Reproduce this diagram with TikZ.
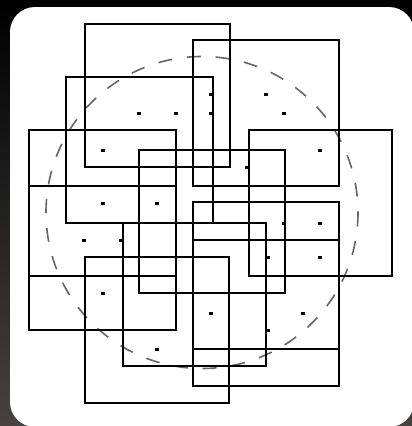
\documentclass[tikz,border=0pt]{standalone}
\usepackage{tikz}
\definecolor{framedark}{HTML}{474141}
\definecolor{ringgray}{HTML}{666666}

\begin{document}
\begin{tikzpicture}[x=1pt,y=-1pt,
    sq/.style={draw=black,line width=2.4pt},
    pin/.style={fill=black},
    ring/.style={draw=ringgray,line width=1.6pt,dash pattern=on 14pt off 14.8pt}]
  \useasboundingbox (0,0) rectangle (412,426);
  \clip (0,0) rectangle (412,426);
  % backdrop and card
  \shade[top color=black,bottom color=framedark] (0,0) rectangle (412,426);
  \fill[white,rounded corners=25pt] (10,7) rectangle (414,427);
  % dashed ring
  \coordinate (hub) at (202,212.5);
  \draw[ring] (hub) circle [radius=156];
  % squares
  \foreach \xa/\ya/\xb/\yb in {85/24/230/167, 193/40/339/186, 66/77/213/223,
      29/130/176/276, 29/186/176/330, 139/150/285/293, 249/130/392/276,
      193/202/339/349, 193/240/339/386, 85/257/229/403, 123/223/266/366}
    \draw[sq] (\xa,\ya) rectangle (\xb,\yb);
  % small marks
  \foreach \px/\py in {139/113, 176/113, 103/150, 103/203, 157/203, 266/94,
      284/113, 211/94, 211/113, 320/150, 247/167, 84/240, 121/240, 103/293,
      157/349, 284/223, 320/223, 268/257, 320/257, 211/313, 303/313, 268/330}
    \fill[pin] (\px-2,\py-1.5) rectangle ++(4,3);
\end{tikzpicture}
\end{document}
